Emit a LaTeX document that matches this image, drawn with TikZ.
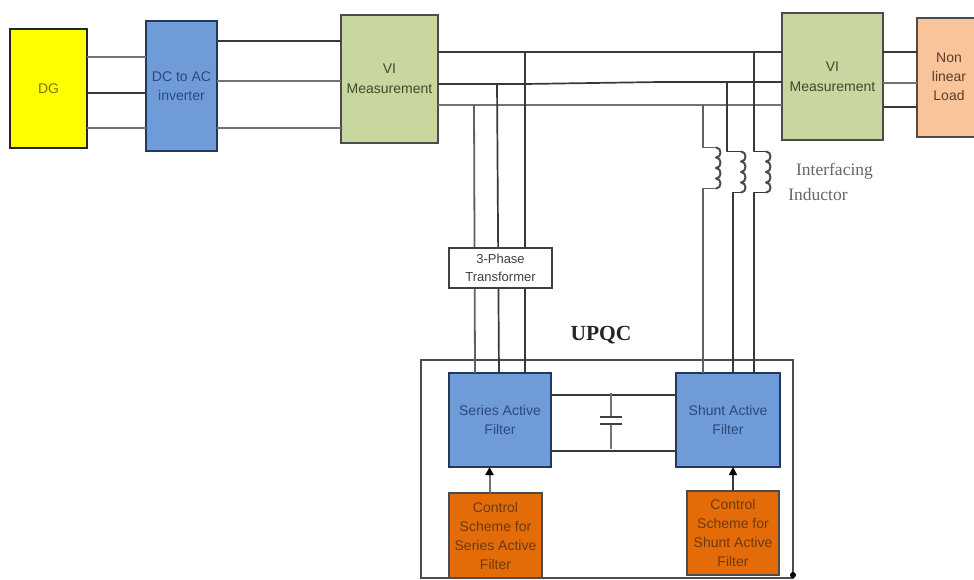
\documentclass[tikz,border=0pt]{standalone}
\usepackage{fontspec}
\setmainfont{Liberation Sans}
\newfontfamily\serifface{Liberation Serif}
\usetikzlibrary{arrows.meta}
\definecolor{dgy}{HTML}{FFFF00}
\definecolor{blu}{HTML}{6F9BD8}
\definecolor{bluedge}{HTML}{24385C}
\definecolor{blutext}{HTML}{2B4A7E}
\definecolor{grn}{HTML}{C8D6A0}
\definecolor{grntext}{HTML}{3E4A2C}
\definecolor{pch}{HTML}{F9C49A}
\definecolor{pchtext}{HTML}{5A3E2A}
\definecolor{org}{HTML}{E36C09}
\definecolor{orgtext}{HTML}{6E3A0C}
\definecolor{dgtext}{HTML}{77770A}
\tikzset{
  x=1pt,y=-1pt,
  blockbox/.style={draw=#1,line width=1.6pt,outer sep=0pt,inner sep=0pt,align=center,anchor=north west,font=\fontsize{14}{19}\selectfont},
  wiredark/.style={draw=black!78,line width=1.7pt},
  wirelight/.style={draw=black!55,line width=2pt},
  wiremid/.style={draw=black!62,line width=1.8pt},
  coilwire/.style={draw=black!70,line width=2pt,line join=round},
  coil/.pic={
    \draw[coilwire] (0,-20.5)
      .. controls (6,-20.5) and (6,-10.5) .. (0,-10.5)
      .. controls (6,-10.5) and (6,0) .. (0,0)
      .. controls (6,0) and (6,10.5) .. (0,10.5)
      .. controls (6,10.5) and (6,20.5) .. (0,20.5);
  }
}
\begin{document}
\begin{tikzpicture}
\useasboundingbox[fill=white] (0,0) rectangle (974,579);

% outer UPQC frame
\node[draw=black!70,line width=1.6pt,outer sep=0pt,inner sep=0pt,minimum width=372pt,minimum height=218pt,anchor=north west] (upqc) at (421,360) {};

% blocks
\node[blockbox=black!85,fill=dgy,text=dgtext,minimum width=77pt,minimum height=119pt] (dg) at (10,29) {DG};
\node[blockbox=bluedge,fill=blu,text=blutext,minimum width=71pt,minimum height=130pt] (inv) at (146,21) {DC to AC\\[-0.5pt]inverter};
\node[blockbox=black!70,fill=grn,text=grntext,minimum width=97pt,minimum height=128pt] (vione) at (341,15) {VI\\[1pt]Measurement};
\node[blockbox=black!70,fill=grn,text=grntext,minimum width=101pt,minimum height=127pt] (vitwo) at (782,13) {VI\\[1pt]Measurement};
\node[blockbox=black!70,fill=pch,text=pchtext,minimum width=60pt,minimum height=119pt] (load) at (917,18) {};
\node[font=\fontsize{14}{19}\selectfont,align=center,text=pchtext,inner sep=0pt] (loadtext) at (949,77) {Non\\linear\\Load};
\node[blockbox=bluedge,fill=blu,text=blutext,minimum width=102pt,minimum height=94pt] (saf) at (449,373) {Series Active\\[-0.5pt]Filter};
\node[blockbox=bluedge,fill=blu,text=blutext,minimum width=104pt,minimum height=94pt] (shaf) at (676,373) {Shunt Active\\[-0.5pt]Filter};
\node[blockbox=black!70,fill=org,text=orgtext,minimum width=93pt,minimum height=85pt] (cone) at (449,493) {Control\\Scheme for\\Series Active\\Filter};
\node[blockbox=black!70,fill=org,text=orgtext,minimum width=92pt,minimum height=84pt] (ctwo) at (687,491) {Control\\Scheme for\\Shunt Active\\Filter};

% wires DG -> inverter -> VI
\draw[wirelight] (dg.east |- 0,57) -- (inv.west |- 0,57);
\draw[wiredark] (dg.east |- 0,93) -- (inv.west |- 0,93);
\draw[wirelight] (dg.east |- 0,128) -- (inv.west |- 0,128);
\draw[wiredark] (inv.east |- 0,41) -- (vione.west |- 0,41);
\draw[wirelight] (inv.east |- 0,81) -- (vione.west |- 0,81);
\draw[wirelight] (inv.east |- 0,128) -- (vione.west |- 0,128);

% main bus
\draw[wiredark] (vione.east |- 0,52) -- (vitwo.west |- 0,52);
\draw[wiredark] (vione.east |- 0,84) -- (525,84) -- (660,82) -- (vitwo.west |- 0,82);
\draw[wirelight] (vione.east |- 0,105) -- (vitwo.west |- 0,105);

% VI -> load
\draw[wiredark] (vitwo.east |- 0,52) -- (load.west |- 0,52);
\draw[wirelight] (vitwo.east |- 0,83) -- (load.west |- 0,83);
\draw[wiredark] (vitwo.east |- 0,107) -- (load.west |- 0,107);

% series branch through transformer
\coordinate (ta) at (474,105);
\coordinate (tb) at (497,84);
\coordinate (tc) at (525,52);
\draw[wiremid] (ta) -- (saf.north -| 475,0);
\draw[wiredark] (tb) -- (saf.north -| 499,0);
\draw[wiredark] (tc) -- (saf.north -| 525,0);
\node[draw=black!75,line width=1.2pt,outer sep=0pt,fill=white,text=black!75,minimum width=103pt,minimum height=40pt,anchor=north west,inner sep=0pt,align=center,font=\fontsize{13}{18}\selectfont] (xfmr) at (449,248) {3-Phase\\Transformer};

% shunt branch with inductors
\coordinate (ia) at (703,105);
\coordinate (ib) at (727,82);
\coordinate (ic) at (754,52);
\coordinate (lat) at (716,147.5);
\coordinate (lab) at (716,188.5);
\coordinate (lbt) at (741,151.5);
\coordinate (lbb) at (741,192.5);
\coordinate (lct) at (766,151.5);
\coordinate (lcb) at (766,192.5);
\pic at (716,168) {coil};
\pic at (741,172) {coil};
\pic at (766,172) {coil};
\draw[wiremid,line join=round] (ia) -- (703,147.5) -- (lat);
\draw[wiredark,line join=round] (ib) -- (727,151.5) -- (lbt);
\draw[wiredark,line join=round] (ic) -- (754,151.5) -- (lct);
\draw[wiremid,line join=round] (lab) -- (703,188.5) -- (shaf.north -| 703,0);
\draw[wiredark,line join=round] (lbb) -- (733,192.5) -- (shaf.north -| 733,0);
\draw[wiredark,line join=round] (lcb) -- (754,192.5) -- (shaf.north -| 754,0);

% DC link with capacitor
\draw[wiredark] (saf.east |- 0,395) -- (shaf.west |- 0,395);
\draw[wiredark] (saf.east |- 0,451) -- (shaf.west |- 0,451);
\coordinate (capt) at (611,393);
\coordinate (capb) at (611,449);
\draw[wirelight] (capt) -- (611,417);
\draw[wirelight] (611,424) -- (capb);
\draw[black!75,line width=1.6pt] (600,417) -- (622,417);
\draw[black!75,line width=1.6pt] (600,424) -- (622,424);

% control arrows
\draw[wirelight,-{Triangle[length=8pt,width=8pt,color=black]}] (cone.north -| 489.5,0) -- (saf.south -| 489.5,0);
\draw[wiredark,-{Triangle[length=8pt,width=8pt,color=black]}] (ctwo.north -| 733,0) -- (shaf.south -| 733,0);

% dot on frame
\fill[black] (793,575) circle (3pt);

% free text
\node[font=\serifface\bfseries\fontsize{21.5}{24}\selectfont,text=black!85,inner sep=0pt] (upqclabel) at (601,335) {UPQC};
\node[font=\serifface\fontsize{17.5}{20}\selectfont,text=black!60,inner sep=0pt] (ifa) at (834.5,171) {Interfacing};
\node[font=\serifface\fontsize{17.5}{20}\selectfont,text=black!60,inner sep=0pt] (ifb) at (818,195) {Inductor};
\end{tikzpicture}
\end{document}
